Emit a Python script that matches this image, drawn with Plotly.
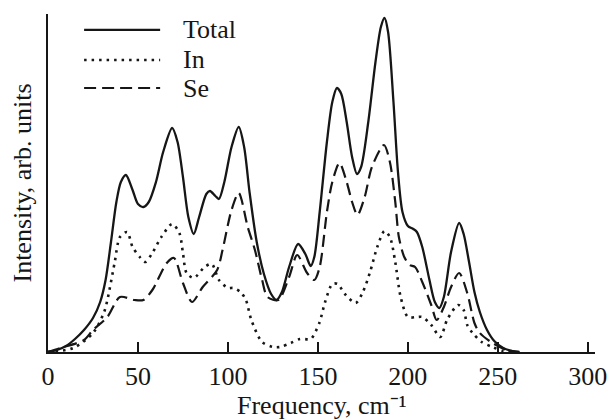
import plotly.graph_objects as go

# Frequency (cm^-1) and intensity (arb. units)
total_f = [0, 5, 10, 15, 20, 25, 29, 32, 35, 38, 40.5, 43.3, 47, 50, 53, 56, 60, 64, 69, 72, 75, 78, 81,
           84, 88, 90, 93, 95, 98, 102, 106, 109, 112, 116, 120, 124, 127, 130, 134, 139, 143, 146, 148,
           151, 155, 158, 160.6, 163, 166, 169, 171.7, 174, 178, 182, 185, 187, 189, 192, 194.5, 197,
           200, 203, 205, 208, 212, 215, 217.5, 220, 224, 228.5, 231, 234, 237, 240, 244, 248, 253, 258, 262]
total_i = [0, 2, 6, 13, 22, 34, 50, 72, 110, 150, 170, 177, 162, 148, 145, 150, 170, 200, 224, 210, 175, 135, 118,
           135, 158, 161, 156, 153, 170, 205, 225, 205, 160, 110, 78, 58, 52, 60, 85, 108, 98, 86, 95,
           140, 210, 250, 264, 258, 230, 195, 178, 185, 230, 290, 325, 334, 320, 250, 180, 140,
           126, 123, 120, 105, 72, 50, 44, 55, 100, 129, 118, 90, 60, 40, 22, 11, 4, 1, 0]

in_f = [0, 14, 25, 31, 33, 37, 40, 44, 47, 51, 54, 58, 63, 69, 73, 75, 77, 81, 87, 91, 95, 100, 103, 107,
        110, 113, 119, 125, 129, 135, 140, 146, 148, 151, 154, 158, 161, 165, 171, 175, 179, 183, 187,
        190, 193, 196, 200, 205, 208, 213, 218, 222, 228, 231, 233, 236, 241, 247, 253, 258]
in_i = [0, 4, 19, 39, 52, 89, 115, 120, 105, 95, 90, 99, 115, 128, 119, 99, 79, 74, 85, 88, 72, 64, 64, 60,
        52, 32, 10, 5, 5, 9, 13, 13, 18, 30, 50, 68, 68, 58, 49, 60, 80, 105, 121,
        115, 90, 55, 35, 35, 35, 27, 15, 33, 47, 42, 27, 19, 10, 5, 1, 0]

se_f = [0, 7, 20, 25, 33, 40, 48, 53, 58, 66, 70, 75, 80, 86, 94, 97, 102, 106, 111, 115, 119, 122, 128,
        134, 138.5, 144, 148, 151, 155, 158, 162, 166, 169, 172, 176, 180, 186.7, 190, 193, 195, 198,
        201, 204, 208, 213, 216, 220, 224, 228.5, 233, 237, 240, 247, 255, 262]
se_i = [0, 4, 12, 22, 35, 55, 52, 52, 62, 89, 94, 69, 50, 65, 82, 102, 142, 159, 125, 102, 72, 55, 52,
        75, 97, 79, 72, 85, 140, 170, 189, 170, 150, 137, 155, 185, 207, 190, 150, 115, 95,
        87, 85, 70, 47, 32, 45, 65, 79, 59, 29, 19, 9, 2, 0]

x_ticks = [0, 50, 100, 150, 200, 250, 300]

FONT = "Liberation Serif, Times New Roman, Times, serif"
FS = 26
INK = "#161616"
DOT = "2.5px,5px"
DASH = "12px,6px"

fig = go.Figure()
fig.add_trace(go.Scatter(x=total_f, y=total_i, mode="lines", name="Total",
                         line=dict(color=INK, width=2.3, shape="spline", smoothing=0.8)))
fig.add_trace(go.Scatter(x=in_f, y=in_i, mode="lines", name="In",
                         line=dict(color=INK, width=2.6, shape="spline", smoothing=0.8, dash=DOT)))
fig.add_trace(go.Scatter(x=se_f, y=se_i, mode="lines", name="Se",
                         line=dict(color=INK, width=2.2, shape="spline", smoothing=0.8, dash=DASH)))

# manual legend (long line samples as in the reference)
legend_items = [("Total", None, 2.3, 0.953), ("In", DOT, 2.6, 0.864), ("Se", DASH, 2.2, 0.781)]
for name, dash, w, yy in legend_items:
    line = dict(color=INK, width=w)
    if dash:
        line["dash"] = dash
    fig.add_shape(type="line", xref="paper", yref="paper", x0=0.066, x1=0.205, y0=yy, y1=yy, line=line)
    fig.add_annotation(xref="paper", yref="paper", x=0.243, y=yy, text=name, showarrow=False,
                       xanchor="left", yanchor="middle", font=dict(family=FONT, size=FS, color=INK))

# x-axis title placed as text below the tick labels
fig.add_annotation(xref="paper", yref="paper", x=0.5, y=-0.158, text="Frequency, cm⁻¹",
                   showarrow=False, xanchor="center", yanchor="middle",
                   font=dict(family=FONT, size=FS, color=INK))

fig.update_layout(
    width=616, height=420,
    margin=dict(l=40, r=29, t=6, b=76),
    plot_bgcolor="white", paper_bgcolor="white",
    showlegend=False,
    font=dict(family=FONT, size=FS, color=INK),
)
fig.update_xaxes(range=[0, 304], tickvals=x_ticks, ticktext=[str(v) for v in x_ticks],
                 ticks="inside", ticklen=10, tickwidth=1.5, tickcolor=INK, automargin=False,
                 showline=True, linewidth=2, linecolor=INK, showgrid=False, zeroline=False,
                 tickfont=dict(family=FONT, size=FS))
fig.update_yaxes(range=[0, 338], showticklabels=False, ticks="", showline=True, linewidth=2,
                 linecolor=INK, showgrid=False, zeroline=False, automargin=False,
                 title=dict(text="Intensity, arb. units", font=dict(family=FONT, size=FS), standoff=8))

fig.write_html("out.html")
